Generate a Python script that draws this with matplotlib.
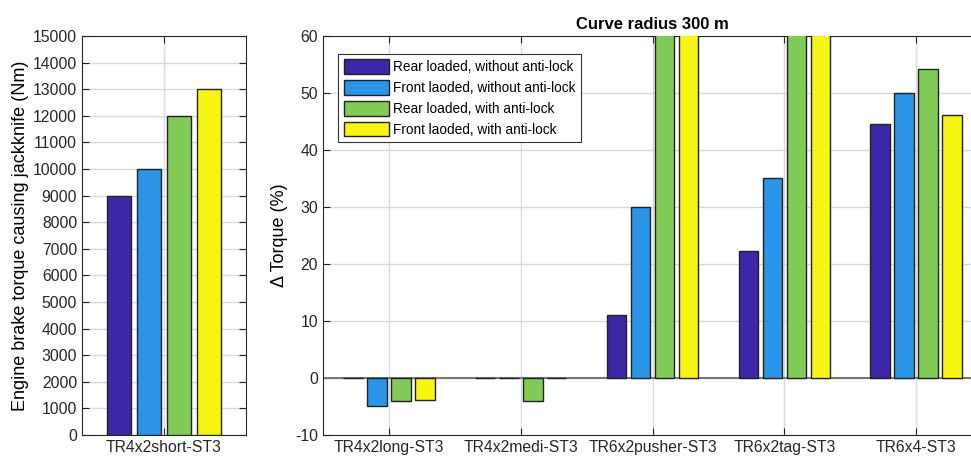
"""Jackknife engine brake torque and relative torque change per vehicle combination."""

import matplotlib.pyplot as plt
import numpy as np

plt.rcParams["font.family"] = ["Liberation Sans", "DejaVu Sans"]
plt.rcParams["axes.unicode_minus"] = False

series_labels = [
    "Rear loaded, without anti-lock",
    "Front laoded, without anti-lock",
    "Rear loaded, with anti-lock",
    "Front laoded, with anti-lock",
]
series_colors = ["#3E26A8", "#2A94E8", "#80CB58", "#F8F514"]

# reference combination: absolute torque (Nm)
ref_vehicle = ["TR4x2short-ST3"]
ref_torque = [9000, 10000, 12000, 13000]

# other combinations: change in torque relative to reference (%)
vehicles = ["TR4x2long-ST3", "TR4x2medi-ST3", "TR6x2pusher-ST3", "TR6x2tag-ST3", "TR6x4-ST3"]
rear_no_abs = [0.0, 0.0, 11.1, 22.2, 44.5]
front_no_abs = [-5.0, 0.0, 30.0, 35.0, 50.0]
rear_abs = [-4.1, -4.1, 72.0, 74.0, 54.2]
front_abs = [-3.8, 0.0, 70.0, 71.0, 46.2]
delta_torque = [rear_no_abs, front_no_abs, rear_abs, front_abs]

offsets = np.array([-1.5, -0.5, 0.5, 1.5]) * 0.182
bar_w = 0.148
grid_kw = dict(color="#D9D9D9", linewidth=1.0)

fig = plt.figure(figsize=(9.71, 4.61), dpi=100)

# left panel
ax1 = fig.add_axes([0.0845, 0.0564, 0.1688, 0.8656])
for i in range(4):
    ax1.bar(1 + offsets[i], ref_torque[i], bar_w, color=series_colors[i],
            edgecolor="#222222", linewidth=1.0, zorder=3)
ax1.set_xlim(0.5, 1.5)
ax1.set_ylim(0, 15000)
ax1.set_yticks(np.arange(0, 15001, 1000))
ax1.set_xticks([1])
ax1.set_xticklabels(ref_vehicle)
ax1.set_ylabel("Engine brake torque causing jackknife (Nm)", fontsize=13, labelpad=3)

# right panel
ax2 = fig.add_axes([0.3327, 0.0564, 0.6787, 0.8656])
x = np.arange(1, len(vehicles) + 1)
for i in range(4):
    ax2.bar(x + offsets[i], delta_torque[i], bar_w, color=series_colors[i],
            edgecolor="#222222", linewidth=1.0, zorder=3, label=series_labels[i])
ax2.axhline(0, color="#777777", linewidth=1.5, zorder=2.5)
ax2.set_xlim(0.5, 5.5)
ax2.set_ylim(-10, 60)
ax2.set_yticks(np.arange(-10, 61, 10))
ax2.set_xticks(x)
ax2.set_xticklabels(vehicles)
ax2.set_ylabel("Δ Torque (%)", fontsize=13, labelpad=5)
ax2.set_title("Curve radius 300 m", fontsize=12, fontweight="bold", pad=5)
leg = ax2.legend(loc="upper left", bbox_to_anchor=(0.023, 0.955), borderaxespad=0,
                 fontsize=9.8, handlelength=3.3, handleheight=1.25, handletextpad=0.3,
                 labelspacing=0.45, borderpad=0.4, fancybox=False,
                 framealpha=1, edgecolor="#333333")
leg.get_frame().set_linewidth(0.8)
for patch in leg.get_patches():
    patch.set_edgecolor("#222222")

for ax in (ax1, ax2):
    ax.grid(True, zorder=0, **grid_kw)
    ax.set_axisbelow(True)
    ax.tick_params(direction="in", top=True, right=True, labelsize=11.3,
                   length=5, width=0.8, colors="#222222", labelcolor="#262626")
    for sp in ax.spines.values():
        sp.set_color("#262626")
        sp.set_linewidth(0.8)

fig.savefig("out.png", dpi=100)
